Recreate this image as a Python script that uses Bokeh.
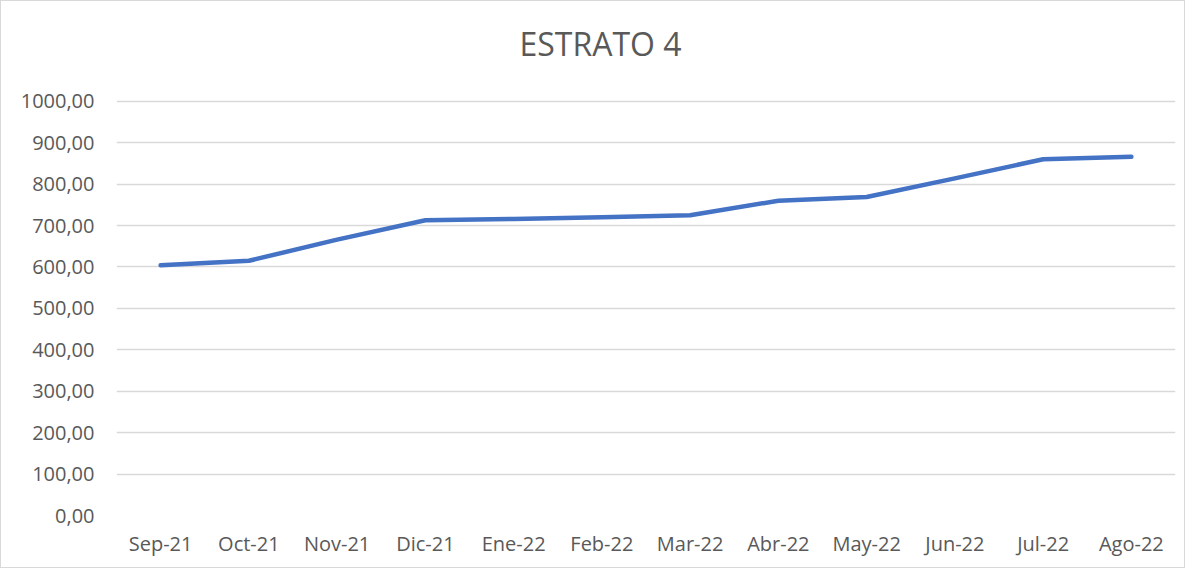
from bokeh.plotting import figure
from bokeh.models import FactorRange, Range1d, FixedTicker, Label
from bokeh.embed import file_html
from bokeh.resources import INLINE

months = ["Sep-21", "Oct-21", "Nov-21", "Dic-21", "Ene-22", "Feb-22",
          "Mar-22", "Abr-22", "May-22", "Jun-22", "Jul-22", "Ago-22"]
values = [604, 615, 666, 713, 716, 720, 725, 760, 769, 814, 860, 866]
y_ticks = [0, 100, 200, 300, 400, 500, 600, 700, 800, 900, 1000]
y_tick_labels = ["0,00", "100,00", "200,00", "300,00", "400,00", "500,00",
                 "600,00", "700,00", "800,00", "900,00", "1000,00"]
title_text = "ESTRATO 4"

FONT = "Open Sans"
TXT = "#595959"

# frame spans the full height so the title can sit inside it (no clipping);
# the y axis top is extended so that 1000 lands ~100px below the top edge
p = figure(width=1185, height=568, output_backend="svg", toolbar_location=None,
           x_range=FactorRange(factors=months, range_padding=0),
           y_range=Range1d(0, 1241),
           min_border_left=115, min_border_right=11,
           min_border_top=0, min_border_bottom=54)
p.styles = {"border": "1px solid #d9d9d9"}

p.add_layout(Label(x=484, y=472, x_units="screen", y_units="screen",
                   text=title_text, text_font=FONT, text_font_size="32px",
                   text_color=TXT, text_align="center", text_baseline="middle"))

p.outline_line_color = None
p.background_fill_color = "white"
p.border_fill_color = "white"

p.line(x=months, y=values, line_color="#4472C4", line_width=4.5,
       line_cap="round", line_join="round")

p.yaxis.ticker = FixedTicker(ticks=y_ticks)
p.yaxis.major_label_overrides = dict(zip(y_ticks, y_tick_labels))
for ax in (p.xaxis[0], p.yaxis[0]):
    ax.axis_line_color = None
    ax.major_tick_line_color = None
    ax.minor_tick_line_color = None
    ax.major_tick_out = 0
    ax.major_tick_in = 0
    ax.major_label_text_font = FONT
    ax.major_label_text_font_size = "20px"
    ax.major_label_text_color = TXT
p.yaxis.major_label_standoff = 22
p.xaxis.major_label_standoff = 14

p.xgrid.grid_line_color = None
p.ygrid.grid_line_color = "#d9d9d9"
p.ygrid.grid_line_width = 1.3

open("out.html", "w").write(file_html(p, INLINE))
